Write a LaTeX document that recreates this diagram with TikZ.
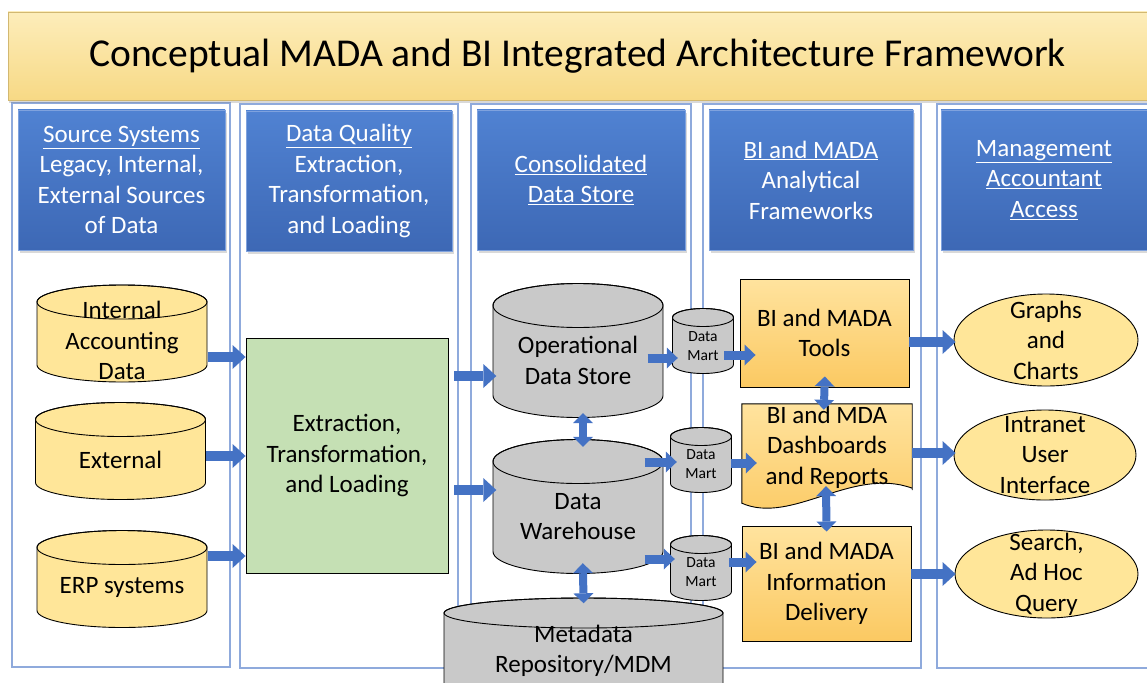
\documentclass[tikz,border=0pt]{standalone}
\usepackage{fontspec}
\setmainfont{Carlito}
\usetikzlibrary{shapes.geometric,arrows.meta,shadows}

\definecolor{bannerlight}{HTML}{FDEDBA}
\definecolor{bannerdark}{HTML}{F7D985}
\definecolor{hdrtop}{HTML}{5082D2}
\definecolor{hdrbot}{HTML}{3D68B5}
\definecolor{hdredge}{HTML}{7FA2DE}
\definecolor{colline}{HTML}{8FAADC}
\definecolor{arrowblue}{HTML}{4472C4}
\definecolor{srcyellow}{HTML}{FFE699}
\definecolor{etlgreen}{HTML}{C5E0B4}
\definecolor{dbgray}{HTML}{C9C9C9}
\definecolor{goldtop}{HTML}{FFE39E}
\definecolor{goldbot}{HTML}{FBC962}

\tikzset{
  banner/.style={rectangle, top color=bannerlight, bottom color=bannerdark, draw=bannerdark!85!black,
    font=\fontsize{39.5}{44}\selectfont, drop shadow={opacity=0.3,shadow xshift=1pt,shadow yshift=-3pt}},
  hdr/.style={rectangle, top color=hdrtop, bottom color=hdrbot, draw=hdredge, text=white,
    minimum height=140pt, drop shadow={opacity=0.3,shadow xshift=2pt,shadow yshift=-3pt}},
  colbox/.style={draw=colline, line width=1.6pt},
  dbcyl/.style n args={4}{rectangle, minimum width=#1pt+1pt, minimum height=#2pt+1pt,
    path picture={
      \coordinate (pc) at (path picture bounding box.center);
      \filldraw[fill=#4, draw=black, line width=0.9pt]
        ([shift={(-#1/2,-#2/2+#3)}]pc) -- ([shift={(-#1/2,#2/2-#3)}]pc)
        arc[start angle=180, end angle=0, x radius=#1/2, y radius=#3]
        -- ([shift={(#1/2,-#2/2+#3)}]pc)
        arc[start angle=0, end angle=-180, x radius=#1/2, y radius=#3] -- cycle;
      \draw[line width=0.9pt] ([shift={(0,-#2/2+#3)}]pc) ellipse[x radius=#1/2, y radius=#3];
    }},
  srcdb/.style={dbcyl={170}{97}{17}{srcyellow}},
  bigdb/.style={dbcyl={170}{134}{22}{dbgray}},
  martdb/.style={dbcyl={61}{65}{9}{dbgray}},
  martlbl/.style={font=\fontsize{15.5}{19.5}\selectfont},
  etlbox/.style={rectangle, draw=black, line width=0.9pt, fill=etlgreen},
  bibox/.style={rectangle, draw=black, line width=0.9pt, top color=goldtop, bottom color=goldbot},
  outell/.style={ellipse, draw=black, line width=0.9pt, fill=srcyellow},
  blk/.style={draw=arrowblue, line width=10pt, -{Triangle[length=13pt,width=24pt,line width=0pt]}},
  sblk/.style={draw=arrowblue, line width=9pt, -{Triangle[length=11pt,width=21pt,line width=0pt]}},
  dblk/.style={draw=arrowblue, line width=8pt,
    {Triangle[length=10pt,width=20pt,line width=0pt]}-{Triangle[length=10pt,width=20pt,line width=0pt]}}
}

\begin{document}
\begin{tikzpicture}[x=1pt,y=-1pt,
  every node/.style={align=center, inner sep=0pt, font=\fontsize{25}{30.5}\selectfont}]
\useasboundingbox (0,0) rectangle (1147,682);

% columns
\draw[colbox] (12,103) rectangle (230,667);
\draw[colbox] (240,104) rectangle (458,668);
\draw[colbox] (471,104) rectangle (691,668);
\draw[colbox] (703,104) rectangle (921,668);
\draw[colbox] (937,104) rectangle (1165,668);

% title
\node[banner, minimum width=1139pt, minimum height=88pt] (title) at (577.5,56)
  {Conceptual MADA and BI Integrated Architecture Framework};

% column headers
\node[hdr, minimum width=207pt] (hsrc) at (121.5,180)
  {\underline{Source Systems}\\Legacy, Internal,\\External Sources\\of Data};
\node[hdr, minimum width=206pt] (hetl) at (349,181)
  {\underline{Data Quality}\\Extraction,\\Transformation,\\and Loading};
\node[hdr, minimum width=208pt] (hcds) at (581,180)
  {\underline{Consolidated}\\\underline{Data Store}};
\node[hdr, minimum width=204pt] (hana) at (811,180)
  {\underline{BI and MADA}\\Analytical\\Frameworks};
\node[hdr, minimum width=206pt] (hacc) at (1044,180)
  {\underline{Management}\\\underline{Accountant}\\\underline{Access}};

% sources
\node[srcdb, label={[yshift=-7pt]center:{Internal\\Accounting\\Data}}] (int) at (122,333.5) {};
\node[srcdb, label={[yshift=-9pt]center:External}] (ext) at (120.5,451) {};
\node[srcdb, label={[yshift=-8pt]center:ERP systems}] (erp) at (122,579) {};

% ETL
\node[etlbox, minimum width=202pt, minimum height=235pt] (etl) at (347,455.5)
  {Extraction,\\Transformation,\\and Loading};

% consolidated store
\node[bigdb, label={[yshift=-10pt]center:{Operational\\Data Store}}] (ods) at (578,350.5) {};
\node[bigdb, label={[yshift=-10pt]center:{Data\\Warehouse}}] (dw) at (578,506.5) {};
\node[dbcyl={279}{112}{15}{dbgray}, label={[yshift=3pt]center:{Metadata\\Repository/MDM}}]
  (meta) at (583.5,654) {};

\node[martdb, label={[martlbl, yshift=-5pt]center:{Data\\Mart}}] (dm1) at (703,341) {};
\node[martdb, label={[martlbl, yshift=-4pt]center:{Data\\Mart}}] (dm2) at (701,460) {};
\node[martdb, label={[martlbl, yshift=-4pt]center:{Data\\Mart}}] (dm3) at (701,568) {};

% BI and MADA frameworks
\node[bibox, minimum width=169pt, minimum height=108pt] (tools) at (824.5,333)
  {BI and MADA\\Tools};
\node[minimum width=170pt, minimum height=86pt] (dash) at (827,447) {};
\path[draw=black, line width=0.9pt, top color=goldtop, bottom color=goldbot]
  (dash.south east) -- (dash.north east) -- (dash.north west) -- ([yshift=-13pt]dash.south west)
  .. controls +(50,22) and +(-60,-22) .. ([yshift=2pt]dash.south east) -- cycle;
\node (dashtxt) at (dash) {BI and MDA\\Dashboards\\and Reports};
\node[bibox, minimum width=169pt, minimum height=115pt] (info) at (826.5,583.5)
  {BI and MADA\\Information\\Delivery};

% access
\node[outell, minimum width=184pt, minimum height=92pt, label=center:{Graphs\\and\\Charts}]
  (graph) at (1046,340) {};
\node[outell, minimum width=182pt, minimum height=90pt, label=center:{Intranet\\User\\Interface}]
  (intra) at (1045,455) {};
\node[outell, minimum width=183pt, minimum height=88pt, label=center:{Search,\\Ad Hoc\\Query}]
  (query) at (1046.5,574) {};

% flows
\draw[blk] (int.east |- 0,357) -- (etl.west |- 0,357);
\draw[blk] (ext.east |- 0,456) -- (etl.west |- 0,456);
\draw[blk] (erp.east |- 0,556) -- (etl.west |- 0,556);
\draw[blk, shorten <=6pt, shorten >=-4pt] (etl.east |- 0,376) -- (ods.west |- 0,376);
\draw[blk, shorten <=6pt, shorten >=-4pt] (etl.east |- 0,490) -- (dw.west |- 0,490);

\draw[sblk, shorten <=-16pt, shorten >=-6pt] (ods.east |- 0,358) -- (dm1.west |- 0,358);
\draw[sblk, shorten <=-19pt, shorten >=-7pt] (dw.east |- 0,462) -- (dm2.west |- 0,462);
\draw[sblk, shorten <=-19pt, shorten >=-5pt] (dw.east |- 0,559) -- (dm3.west |- 0,559);
\draw[sblk, shorten <=-10pt, shorten >=-16pt] (dm1.east |- 0,355) -- (tools.west |- 0,355);
\draw[sblk, shorten <=-1pt, shorten >=-15pt] (dm2.east |- 0,463) -- (dash.west |- 0,463);
\draw[sblk, shorten <=-3pt, shorten >=-15pt] (dm3.east |- 0,562) -- (info.west |- 0,562);

\draw[blk, shorten >=-2pt] (tools.east |- 0,342) -- (graph.west |- 0,342);
\draw[blk, shorten >=-2pt] (dash.east |- 0,453) -- (intra.west |- 0,453);
\draw[blk, shorten >=-1pt] (info.east |- 0,574) -- (query.west |- 0,574);

\draw[dblk, shorten <=-5pt, shorten >=-8pt] ([xshift=5pt]ods.south) -- ([xshift=5pt]dw.north);
\draw[dblk, shorten <=-11pt, shorten >=-6pt] ([xshift=5pt]dw.south) -- (meta.north);
\draw[dblk, shorten <=-11pt, shorten >=-6pt] (tools.south) -- ([xshift=-3pt]dash.north);
\draw[dblk, shorten <=-4pt, shorten >=-6pt] ([xshift=-1pt]dash.south) -- (info.north);
\end{tikzpicture}
\end{document}
